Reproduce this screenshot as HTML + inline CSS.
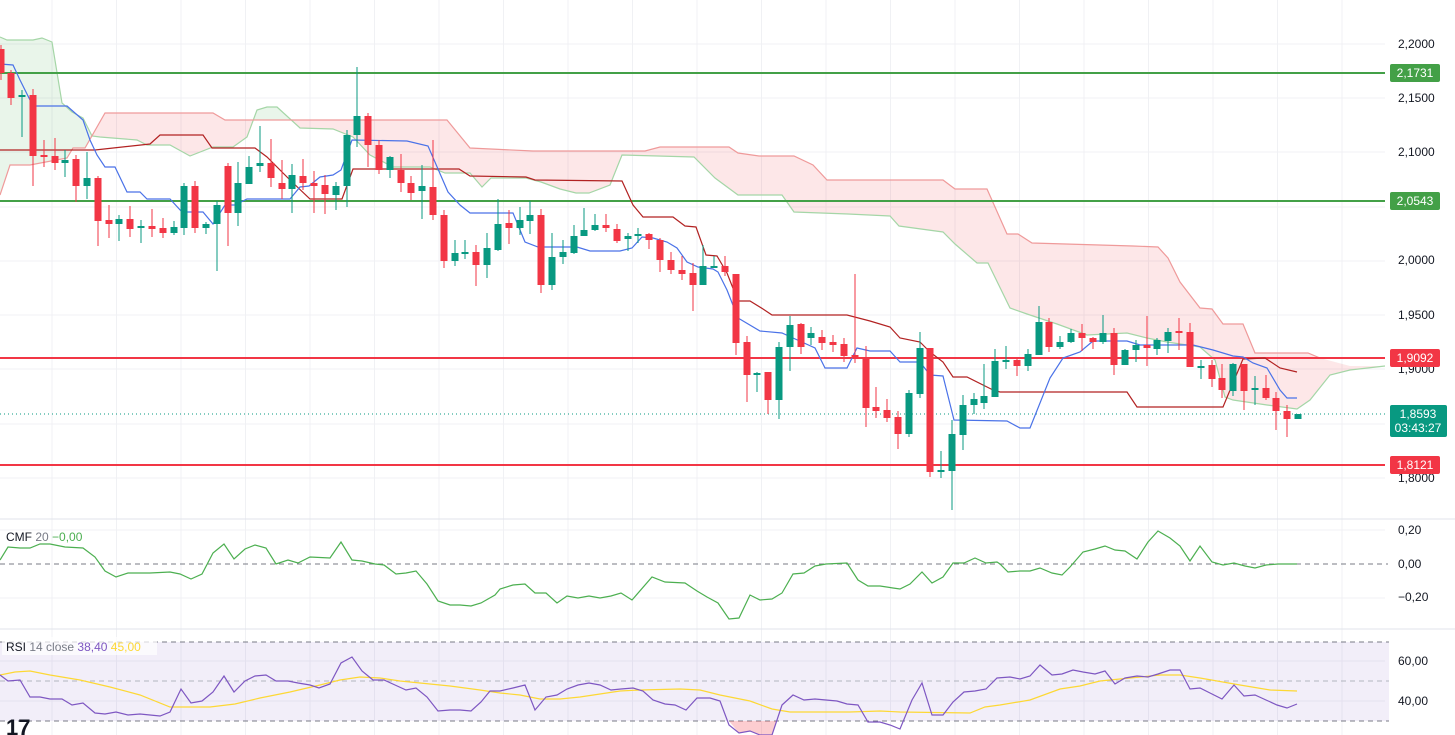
<!DOCTYPE html>
<html><head><meta charset="utf-8">
<style>
html,body{margin:0;padding:0;background:#fff;}
body{width:1455px;height:735px;overflow:hidden;position:relative;font-family:"Liberation Sans",sans-serif;}
svg{position:absolute;left:0;top:0;}
</style></head>
<body>
<svg id="s" width="1455" height="735" xmlns="http://www.w3.org/2000/svg" font-family="Liberation Sans, sans-serif">
<defs>
<clipPath id="pane"><rect x="0" y="0" width="1385" height="519"/></clipPath>
<clipPath id="aboveB"><polygon id="cabove" points=""/></clipPath>
<clipPath id="belowB"><polygon id="cbelow" points=""/></clipPath>
</defs>
<g id="grid" stroke="#f0f1f4" stroke-width="1"></g>
<g clip-path="url(#pane)">
<g id="cloud"></g>
<line x1="0" y1="73" x2="1385" y2="73" stroke="#43a047" stroke-width="2"/>
<line x1="0" y1="201" x2="1385" y2="201" stroke="#43a047" stroke-width="2"/>
<line x1="0" y1="358" x2="1385" y2="358" stroke="#f23645" stroke-width="2"/>
<line x1="0" y1="465" x2="1385" y2="465" stroke="#f23645" stroke-width="2"/>
<line x1="0" y1="414" x2="1385" y2="414" stroke="#089981" stroke-width="1" stroke-dasharray="1,3"/>
<g id="lines"></g>
<g id="candles"></g>
</g>
<line x1="0" y1="519" x2="1455" y2="519" stroke="#e0e3eb"/>
<line x1="0" y1="629" x2="1455" y2="629" stroke="#e0e3eb"/>
<!-- CMF -->
<line x1="0" y1="564" x2="1388" y2="564" stroke="#787b86" stroke-dasharray="5,4"/>
<polyline id="cmf" fill="none" stroke="#4caf50" stroke-width="1.2"/>
<text x="6" y="541" font-size="12" fill="#131722">CMF <tspan fill="#787b86">20</tspan> <tspan fill="#4caf50">−0,00</tspan></text>
<!-- RSI -->
<rect x="0" y="642" width="1389" height="79" fill="#7e57c2" fill-opacity="0.1"/>
<line x1="0" y1="642" x2="1389" y2="642" stroke="#787b86" stroke-dasharray="5,4"/>
<line x1="0" y1="681" x2="1389" y2="681" stroke="#b2b5be" stroke-dasharray="5,4"/>
<line x1="0" y1="721" x2="1389" y2="721" stroke="#787b86" stroke-dasharray="5,4"/>
<polygon points="729,721 739,733 750,731 760,735 772,735 777,721" fill="#f23645" fill-opacity="0.25"/>
<polyline id="ma" fill="none" stroke="#fdd835" stroke-width="1.2"/>
<polyline id="rsi" fill="none" stroke="#7e57c2" stroke-width="1.2"/>
<rect x="2" y="637" width="155" height="18" fill="#fff" fill-opacity="0.7"/>
<text x="6" y="651" font-size="12" fill="#131722">RSI <tspan fill="#787b86">14 close</tspan> <tspan fill="#7e57c2">38,40</tspan> <tspan fill="#fdd835">45,00</tspan></text>
<text x="6" y="735" font-size="22" font-weight="bold" fill="#131722">17</text>
<!-- axis -->
<g font-size="12" fill="#131722">
<text x="1398" y="48">2,2000</text>
<text x="1398" y="102">2,1500</text>
<text x="1398" y="156">2,1000</text>
<text x="1398" y="264">2,0000</text>
<text x="1398" y="319">1,9500</text>
<text x="1398" y="373">1,9000</text>
<text x="1398" y="482">1,8000</text>
<text x="1398" y="534">0,20</text>
<text x="1398" y="568">0,00</text>
<text x="1398" y="601">−0,20</text>
<text x="1398" y="665">60,00</text>
<text x="1398" y="705">40,00</text>
</g>
<rect x="1390" y="64" width="50" height="18" rx="2" fill="#43a047"/><text x="1415" y="77" font-size="12" fill="#fff" text-anchor="middle">2,1731</text>
<rect x="1390" y="192" width="50" height="18" rx="2" fill="#43a047"/><text x="1415" y="205" font-size="12" fill="#fff" text-anchor="middle">2,0543</text>
<rect x="1390" y="349" width="50" height="18" rx="2" fill="#f23645"/><text x="1415" y="362" font-size="12" fill="#fff" text-anchor="middle">1,9092</text>
<rect x="1390" y="456" width="50" height="18" rx="2" fill="#f23645"/><text x="1415" y="469" font-size="12" fill="#fff" text-anchor="middle">1,8121</text>
<rect x="1390" y="405" width="57" height="32" rx="2" fill="#089981"/><text x="1418" y="418" font-size="12" fill="#fff" text-anchor="middle">1,8593</text><text x="1418" y="432" font-size="12" fill="#fff" text-anchor="middle">03:43:27</text>
</svg>
<script>
var NS="http://www.w3.org/2000/svg";
function el(t,a,p){var e=document.createElementNS(NS,t);for(var k in a)e.setAttribute(k,a[k]);p.appendChild(e);return e;}
function pts(a){return a.map(function(p){return p[0]+","+p[1];}).join(" ");}
var g=document.getElementById("grid");
for(var x=52;x<1385;x+=64.5)el("line",{x1:x,y1:0,x2:x,y2:735},g);
[44,98,152,207,261,315,369,424,478,530,598,661,701].forEach(function(y){el("line",{x1:0,y1:y,x2:1385,y2:y},g);});
var A=[[0,37],[7,40],[33,40],[42,38],[52,42],[62,103],[72,112],[83,118],[92,136],[100,137],[137,140],[147,145],[170,145],[190,156],[213,147],[233,147],[247,137],[257,110],[267,107],[277,107],[300,128],[333,129],[353,137],[370,155],[393,167],[430,167],[445,173],[470,173],[482,187],[491,178],[526,178],[541,182],[560,189],[576,193],[589,193],[610,185],[622,155],[694,157],[715,178],[738,195],[782,195],[794,212],[848,214],[890,216],[899,226],[943,232],[955,244],[977,263],[988,263],[1010,308],[1027,314],[1057,324],[1087,335],[1127,333],[1147,338],[1167,342],[1200,347],[1215,360],[1225,397],[1233,400],[1267,405],[1297,409],[1310,400],[1330,375],[1350,370],[1385,366]];
var B=[[0,195],[10,165],[30,165],[67,158],[73,148],[85,148],[105,113],[213,113],[225,120],[447,120],[470,148],[533,151],[645,151],[660,147],[729,147],[738,153],[759,156],[794,156],[813,165],[827,180],[943,180],[955,189],[987,189],[1007,234],[1018,234],[1032,243],[1133,246],[1158,247],[1168,258],[1180,282],[1200,308],[1212,309],[1223,324],[1243,324],[1255,353],[1308,353],[1320,358],[1350,366],[1385,366]];
document.getElementById("cabove").setAttribute("points",pts(B.concat([[1385,0],[0,0]])));
document.getElementById("cbelow").setAttribute("points",pts(B.concat([[1385,519],[0,519]])));
var cl=document.getElementById("cloud");
var poly=pts(A.concat(B.slice().reverse()));
el("polygon",{points:poly,fill:"rgba(76,175,80,0.12)","clip-path":"url(#aboveB)"},cl);
el("polygon",{points:poly,fill:"rgba(242,54,69,0.12)","clip-path":"url(#belowB)"},cl);
el("polyline",{points:pts(A),fill:"none",stroke:"#a5d6a7","stroke-width":1.2},cl);
el("polyline",{points:pts(B.slice(0,B.length-2)),fill:"none",stroke:"#ef9a9a","stroke-width":1.2},cl);
var L=document.getElementById("lines");
var T=[[0,64],[13,65],[20,80],[33,106],[67,106],[83,120],[90,140],[97,155],[105,167],[115,167],[127,192],[140,192],[147,199],[170,199],[182,212],[203,212],[213,224],[225,205],[235,205],[247,199],[290,199],[300,187],[309,186],[320,177],[333,175],[341,170],[352,140],[407,141],[428,146],[448,192],[460,205],[470,213],[513,213],[525,242],[538,247],[577,247],[590,251],[620,251],[632,248],[642,237],[653,238],[667,242],[677,248],[687,262],[698,267],[713,269],[718,272],[727,290],[738,318],[760,331],[782,333],[793,338],[815,348],[825,368],[847,368],[857,348],[870,351],[890,351],[900,362],[920,362],[930,375],[943,376],[954,420],[1007,421],[1020,428],[1030,428],[1050,378],[1063,358],[1080,352],[1093,341],[1127,341],[1140,345],[1193,345],[1213,350],[1233,356],[1243,357],[1253,363],[1267,368],[1280,390],[1287,398],[1297,398]];
var K=[[0,150],[95,150],[150,144],[160,135],[203,135],[212,148],[255,148],[267,157],[290,180],[310,199],[342,199],[353,169],[459,169],[470,176],[526,177],[535,180],[622,181],[633,205],[643,217],[673,217],[685,226],[696,227],[706,255],[717,256],[727,273],[738,301],[750,301],[763,309],[772,315],[847,315],[870,321],[890,327],[900,338],[920,342],[930,352],[943,362],[953,377],[967,377],[993,390],[1000,392],[1127,392],[1137,407],[1223,407],[1243,359],[1265,358],[1280,368],[1297,372]];
el("polyline",{points:pts(K),fill:"none",stroke:"#b22222","stroke-width":1.2},L);
el("polyline",{points:pts(T),fill:"none",stroke:"#4a72e8","stroke-width":1.2},L);
// candles: top,bottom,high,low,green
var C=[[49,73,45,80,0],[73,98,70,105,0],[95,97,90,137,1],[95,156,89,186,0],[155,157,140,167,0],[156,163,138,170,0],[160,163,150,177,1],[159,186,155,202,0],[178,186,152,199,1],[178,221,176,246,0],[220,224,205,238,0],[219,224,215,241,1],[219,229,206,237,0],[226,228,220,243,1],[226,229,209,237,0],[228,233,218,238,0],[227,233,221,235,1],[186,228,183,235,1],[186,228,181,233,0],[224,228,222,234,1],[205,224,201,271,1],[166,213,163,246,0],[183,213,162,226,1],[167,184,156,184,1],[163,166,126,172,1],[163,178,139,187,0],[183,189,160,199,0],[175,189,164,213,1],[176,183,159,190,0],[183,186,171,213,0],[185,194,175,214,0],[186,195,182,210,1],[135,186,130,207,1],[116,135,67,147,1],[116,145,113,167,0],[145,170,140,174,0],[157,170,156,178,1],[170,183,154,192,0],[183,193,176,200,0],[186,191,165,219,1],[187,215,140,220,0],[215,261,210,268,0],[253,261,240,266,1],[252,254,240,259,1],[252,265,245,286,0],[248,265,233,278,1],[224,250,199,251,1],[223,228,210,244,0],[220,228,207,235,1],[215,221,201,234,1],[215,285,209,293,0],[257,285,233,290,1],[252,257,240,264,1],[236,253,225,254,1],[230,236,208,236,1],[225,230,214,231,1],[225,228,214,232,0],[229,241,224,243,0],[236,239,233,251,1],[234,236,228,243,1],[234,240,233,249,0],[240,260,238,272,0],[260,270,252,274,0],[270,274,256,280,0],[273,285,263,311,0],[266,285,245,285,1],[266,268,256,268,1],[266,272,256,276,0],[274,343,274,355,0],[342,375,336,402,0],[373,375,372,392,1],[372,400,372,414,0],[347,400,342,419,1],[325,347,316,371,1],[324,347,323,354,0],[333,338,327,345,1],[337,343,330,350,0],[342,345,335,352,0],[344,356,338,362,0],[355,358,274,363,0],[357,408,346,427,0],[407,411,387,418,0],[410,418,399,422,0],[417,434,411,449,0],[393,434,390,437,1],[348,394,332,398,1],[348,472,348,477,0],[470,472,451,478,1],[434,471,420,510,1],[405,435,395,450,1],[399,405,393,414,1],[396,403,364,409,1],[361,397,349,397,1],[360,362,346,369,1],[360,366,358,376,0],[354,366,349,371,1],[322,355,306,355,1],[322,347,318,352,0],[342,347,336,349,1],[333,342,329,343,1],[333,338,324,351,0],[338,342,337,349,0],[333,342,315,344,1],[333,365,328,375,0],[350,365,349,364,1],[345,350,340,362,1],[345,348,316,366,0],[340,349,338,355,1],[332,341,328,353,1],[331,333,318,350,0],[332,367,323,367,0],[366,367,360,379,1],[365,379,360,387,0],[378,390,364,398,0],[364,391,363,396,1],[364,391,364,410,0],[388,390,376,405,1],[388,398,375,400,0],[398,411,392,430,0],[411,419,405,437,0],[414,419,414,419,1]];
var cg=document.getElementById("candles");
var step=(1298-0.5)/(C.length-1);
C.forEach(function(c,i){var x=Math.round(0.5+i*step);var col=c[4]?"#089981":"#f23645";
el("line",{x1:x,y1:c[2],x2:x,y2:c[3],stroke:col,"stroke-width":1},cg);
var h=Math.max(2,c[1]-c[0]);el("rect",{x:x-3.5,y:c[0],width:7,height:h,fill:col},cg);});
var CMF=[[0,560],[8,547],[20,548],[30,548],[40,544],[50,544],[65,547],[83,548],[95,557],[105,571],[116,577],[128,573],[150,573],[170,572],[180,574],[191,579],[202,574],[213,553],[224,544],[234,559],[245,549],[255,545],[266,548],[276,564],[288,560],[298,563],[310,557],[330,558],[341,542],[352,560],[362,561],[375,564],[384,565],[396,574],[406,573],[416,571],[427,584],[438,601],[450,605],[460,605],[471,606],[481,603],[495,595],[500,589],[513,585],[525,584],[535,593],[546,593],[557,603],[567,596],[578,598],[589,596],[600,598],[611,596],[621,593],[632,600],[652,577],[665,582],[685,583],[697,591],[707,597],[718,603],[729,619],[739,618],[750,595],[760,600],[772,599],[782,593],[793,574],[804,573],[815,566],[826,564],[847,563],[858,580],[868,586],[880,586],[893,588],[900,589],[910,584],[922,572],[932,583],[943,577],[953,563],[964,563],[975,558],[986,563],[997,562],[1000,564],[1008,572],[1020,571],[1030,571],[1040,568],[1052,573],[1062,575],[1070,567],[1083,552],[1095,549],[1105,546],[1115,550],[1125,551],[1137,559],[1148,542],[1158,531],[1170,538],[1180,546],[1190,561],[1200,546],[1212,562],[1223,565],[1234,563],[1245,566],[1255,568],[1266,565],[1278,564],[1297,564]];
document.getElementById("cmf").setAttribute("points",pts(CMF));
var R=[[0,675],[8,681],[20,680],[30,697],[40,697],[50,699],[62,699],[72,705],[83,703],[95,713],[105,714],[116,712],[128,715],[140,714],[150,715],[160,716],[170,712],[181,689],[191,703],[202,701],[213,692],[224,676],[234,692],[245,681],[255,676],[266,675],[276,681],[288,681],[298,683],[310,685],[319,688],[330,684],[341,663],[352,657],[362,671],[373,680],[384,680],[395,685],[406,690],[416,688],[427,697],[438,711],[450,710],[460,710],[471,711],[481,702],[490,691],[500,691],[513,688],[525,685],[535,710],[546,697],[557,695],[567,689],[578,685],[589,683],[600,685],[611,690],[621,689],[633,688],[643,691],[653,700],[665,704],[675,705],[686,710],[697,698],[710,698],[720,701],[729,725],[739,733],[750,731],[760,735],[772,735],[782,705],[793,695],[804,700],[815,699],[826,700],[837,701],[847,704],[858,705],[868,722],[880,722],[890,725],[900,729],[912,700],[922,683],[932,715],[943,715],[953,702],[964,692],[975,691],[986,689],[997,678],[1010,677],[1020,679],[1030,676],[1040,665],[1052,675],[1062,674],[1073,670],[1083,672],[1095,674],[1105,671],[1115,684],[1125,678],[1137,676],[1148,677],[1158,674],[1170,670],[1180,670],[1190,689],[1200,688],[1210,693],[1222,699],[1234,685],[1244,696],[1255,695],[1266,700],[1277,705],[1287,708],[1297,704]];
document.getElementById("rsi").setAttribute("points",pts(R));
var M=[[0,675],[15,672],[30,671],[50,675],[80,680],[110,687],[140,695],[170,707],[210,707],[235,704],[260,698],[290,692],[320,685],[340,680],[360,677],[380,678],[400,681],[420,683],[450,686],[480,690],[500,693],[520,695],[540,699],[560,699],[580,697],[600,694],[620,691],[640,690],[680,689],[700,690],[720,695],[750,701],[772,709],[790,712],[850,712],[880,711],[900,712],[970,713],[985,707],[1000,705],[1030,700],[1060,689],[1080,686],[1100,681],[1130,678],[1160,675],[1180,675],[1200,678],[1240,685],[1270,690],[1297,691]];
document.getElementById("ma").setAttribute("points",pts(M));
</script>
</body></html>
